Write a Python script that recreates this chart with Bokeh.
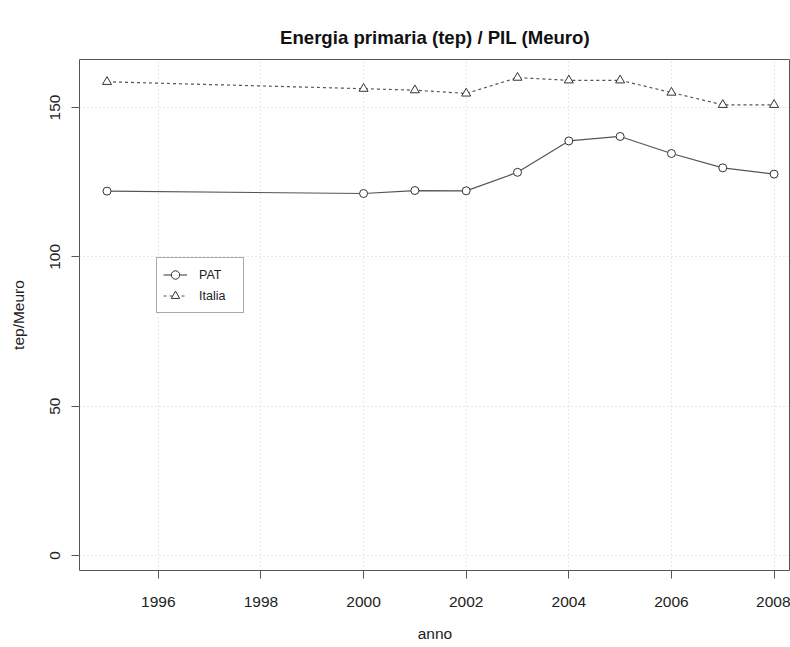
from bokeh.plotting import figure
from bokeh.models import FixedTicker, Legend, LegendItem, ColumnDataSource
from bokeh.embed import file_html
from bokeh.resources import INLINE

# ---- data ----
anni = [1995, 2000, 2001, 2002, 2003, 2004, 2005, 2006, 2007, 2008]
pat = [122.0, 121.2, 122.2, 122.1, 128.3, 138.8, 140.3, 134.6, 129.8, 127.7]
italia = [158.6, 156.3, 155.8, 154.7, 160.0, 159.1, 159.1, 155.0, 150.9, 150.9]
x_ticks = [1996, 1998, 2000, 2002, 2004, 2006, 2008]
y_ticks = [0, 50, 100, 150]

FONT = "Liberation Sans"
INK = "#222222"

p = figure(width=790, height=647, output_backend="svg", toolbar_location=None,
           x_range=(1994.464, 2008.32), y_range=(-5.02, 166.07),
           min_border_left=79, min_border_top=59, min_border_bottom=77,
           min_border_right=0)

p.title.text = "Energia primaria (tep) / PIL (Meuro)"
p.title.align = "center"
p.title.text_font = FONT
p.title.text_font_size = "18.6px"
p.title.text_font_style = "bold"
p.title.text_color = "#111111"
p.title.standoff = 24

p.outline_line_color = "#555555"
p.outline_line_width = 1
p.background_fill_color = "white"
p.border_fill_color = "white"

# axes
p.xaxis.ticker = FixedTicker(ticks=x_ticks)
p.yaxis.ticker = FixedTicker(ticks=y_ticks)
p.xaxis.axis_label = "anno"
p.yaxis.axis_label = "tep/Meuro"
for ax in (p.xaxis[0], p.yaxis[0]):
    ax.axis_line_color = None
    ax.major_tick_line_color = "#555555"
    ax.minor_tick_line_color = None
    ax.major_tick_in = 0
    ax.major_label_text_font = FONT
    ax.major_label_text_font_size = "15.5px"
    ax.major_label_text_color = INK
    ax.axis_label_text_font = FONT
    ax.axis_label_text_font_size = "15.5px"
    ax.axis_label_text_font_style = "normal"
    ax.axis_label_text_color = INK
p.xaxis.major_tick_out = 8
p.xaxis.major_label_standoff = 18
p.xaxis.axis_label_standoff = 15
p.yaxis.major_tick_out = 8
p.yaxis.major_label_orientation = "vertical"
p.yaxis.major_label_standoff = 11
p.yaxis.axis_label_standoff = 21

# grid
p.xgrid.grid_line_color = "#d3d3d3"
p.ygrid.grid_line_color = "#d3d3d3"
p.xgrid.grid_line_dash = "1 3"
p.ygrid.grid_line_dash = "1 3"

src = ColumnDataSource(dict(anno=anni, pat=pat, italia=italia))

l_pat = p.line("anno", "pat", source=src, line_color="#555555", line_width=1.2)
m_pat = p.scatter("anno", "pat", source=src, marker="circle", size=8,
                  fill_color="white", line_color="#333333", line_width=1)
l_it = p.line("anno", "italia", source=src, line_color="#555555", line_width=1.2,
              line_dash="3 3")
m_it = p.scatter("anno", "italia", source=src, marker="triangle", size=9,
                 fill_color="white", line_color="#333333", line_width=1)

legend = Legend(items=[LegendItem(label="PAT", renderers=[l_pat, m_pat]),
                       LegendItem(label="Italia", renderers=[l_it, m_it])],
                location=(77, 257), margin=0, padding=6, spacing=0,
                glyph_width=24, glyph_height=21, label_height=21,
                label_standoff=12, label_width=38,
                label_text_font=FONT, label_text_font_size="12.5px",
                label_text_color=INK,
                border_line_color="#555555", border_line_width=1.3,
                background_fill_color="white", background_fill_alpha=1)
p.add_layout(legend, "center")

open("out.html", "w").write(file_html(p, INLINE))
